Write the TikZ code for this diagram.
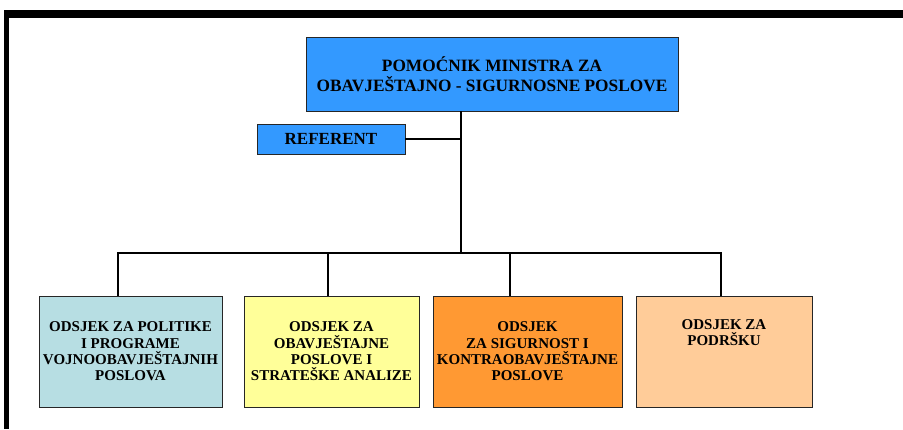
\documentclass[tikz,border=0pt]{standalone}
\usepackage{fontspec}
\setmainfont{Liberation Serif}
\definecolor{topblue}{HTML}{3399FF}
\definecolor{lblue}{HTML}{B7DEE3}
\definecolor{lyellow}{HTML}{FFFF99}
\definecolor{orng}{HTML}{FF9933}
\definecolor{peach}{HTML}{FFCC99}
\begin{document}
\begin{tikzpicture}[x=1pt,y=-1pt,
  box/.style={draw=black!85,line width=0.8pt,inner sep=0pt,align=center,font=\bfseries\fontsize{15}{16.3}\selectfont},
  conn/.style={line width=2.8pt,draw=black}]
\useasboundingbox (0,0) rectangle (903,429);
% frame
\fill[black] (4,10) rectangle (903,18);
\fill[black] (4,10) rectangle (9,429);
% nodes
\node[box,fill=topblue,minimum width=372pt,minimum height=74pt,font=\bfseries\fontsize{17.3}{20}\selectfont] (top) at (492,74) {POMOĆNIK MINISTRA ZA\\OBAVJEŠTAJNO - SIGURNOSNE POSLOVE};
\node[box,fill=topblue,minimum width=148pt,minimum height=30pt,font=\bfseries\fontsize{17}{18}\selectfont] (ref) at (331,139) {REFERENT};
\node[box,fill=lblue,minimum width=183pt,minimum height=111pt] (b1) at (130.5,351.5) {ODSJEK ZA POLITIKE\\I PROGRAME\\VOJNOOBAVJEŠTAJNIH\\POSLOVA};
\node[box,fill=lyellow,minimum width=175pt,minimum height=111pt] (b2) at (331.5,351.5) {ODSJEK ZA\\OBAVJEŠTAJNE\\POSLOVE I\\STRATEŠKE ANALIZE};
\node[box,fill=orng,minimum width=189pt,minimum height=111pt] (b3) at (527.5,351.5) {ODSJEK\\ZA SIGURNOST I\\KONTRAOBAVJEŠTAJNE\\POSLOVE};
\node[box,fill=peach,minimum width=176pt,minimum height=111pt] (b4) at (724,351.5) {ODSJEK ZA\\PODRŠKU\\\strut\\\strut};
% connectors
\coordinate (bus) at (461,253);
\coordinate (d1) at (118,253);
\coordinate (d2) at (328,253);
\coordinate (d3) at (510,253);
\coordinate (d4) at (721,253);
\draw[conn] (top.south -| bus) -- (bus);
\draw[conn] (ref.east) -- (ref.east -| bus);
\draw[conn] (d1 |- b1.north) -- (d1) -- (d4) -- (d4 |- b4.north);
\draw[conn] (d2) -- (d2 |- b2.north);
\draw[conn] (d3) -- (d3 |- b3.north);
\end{tikzpicture}
\end{document}
